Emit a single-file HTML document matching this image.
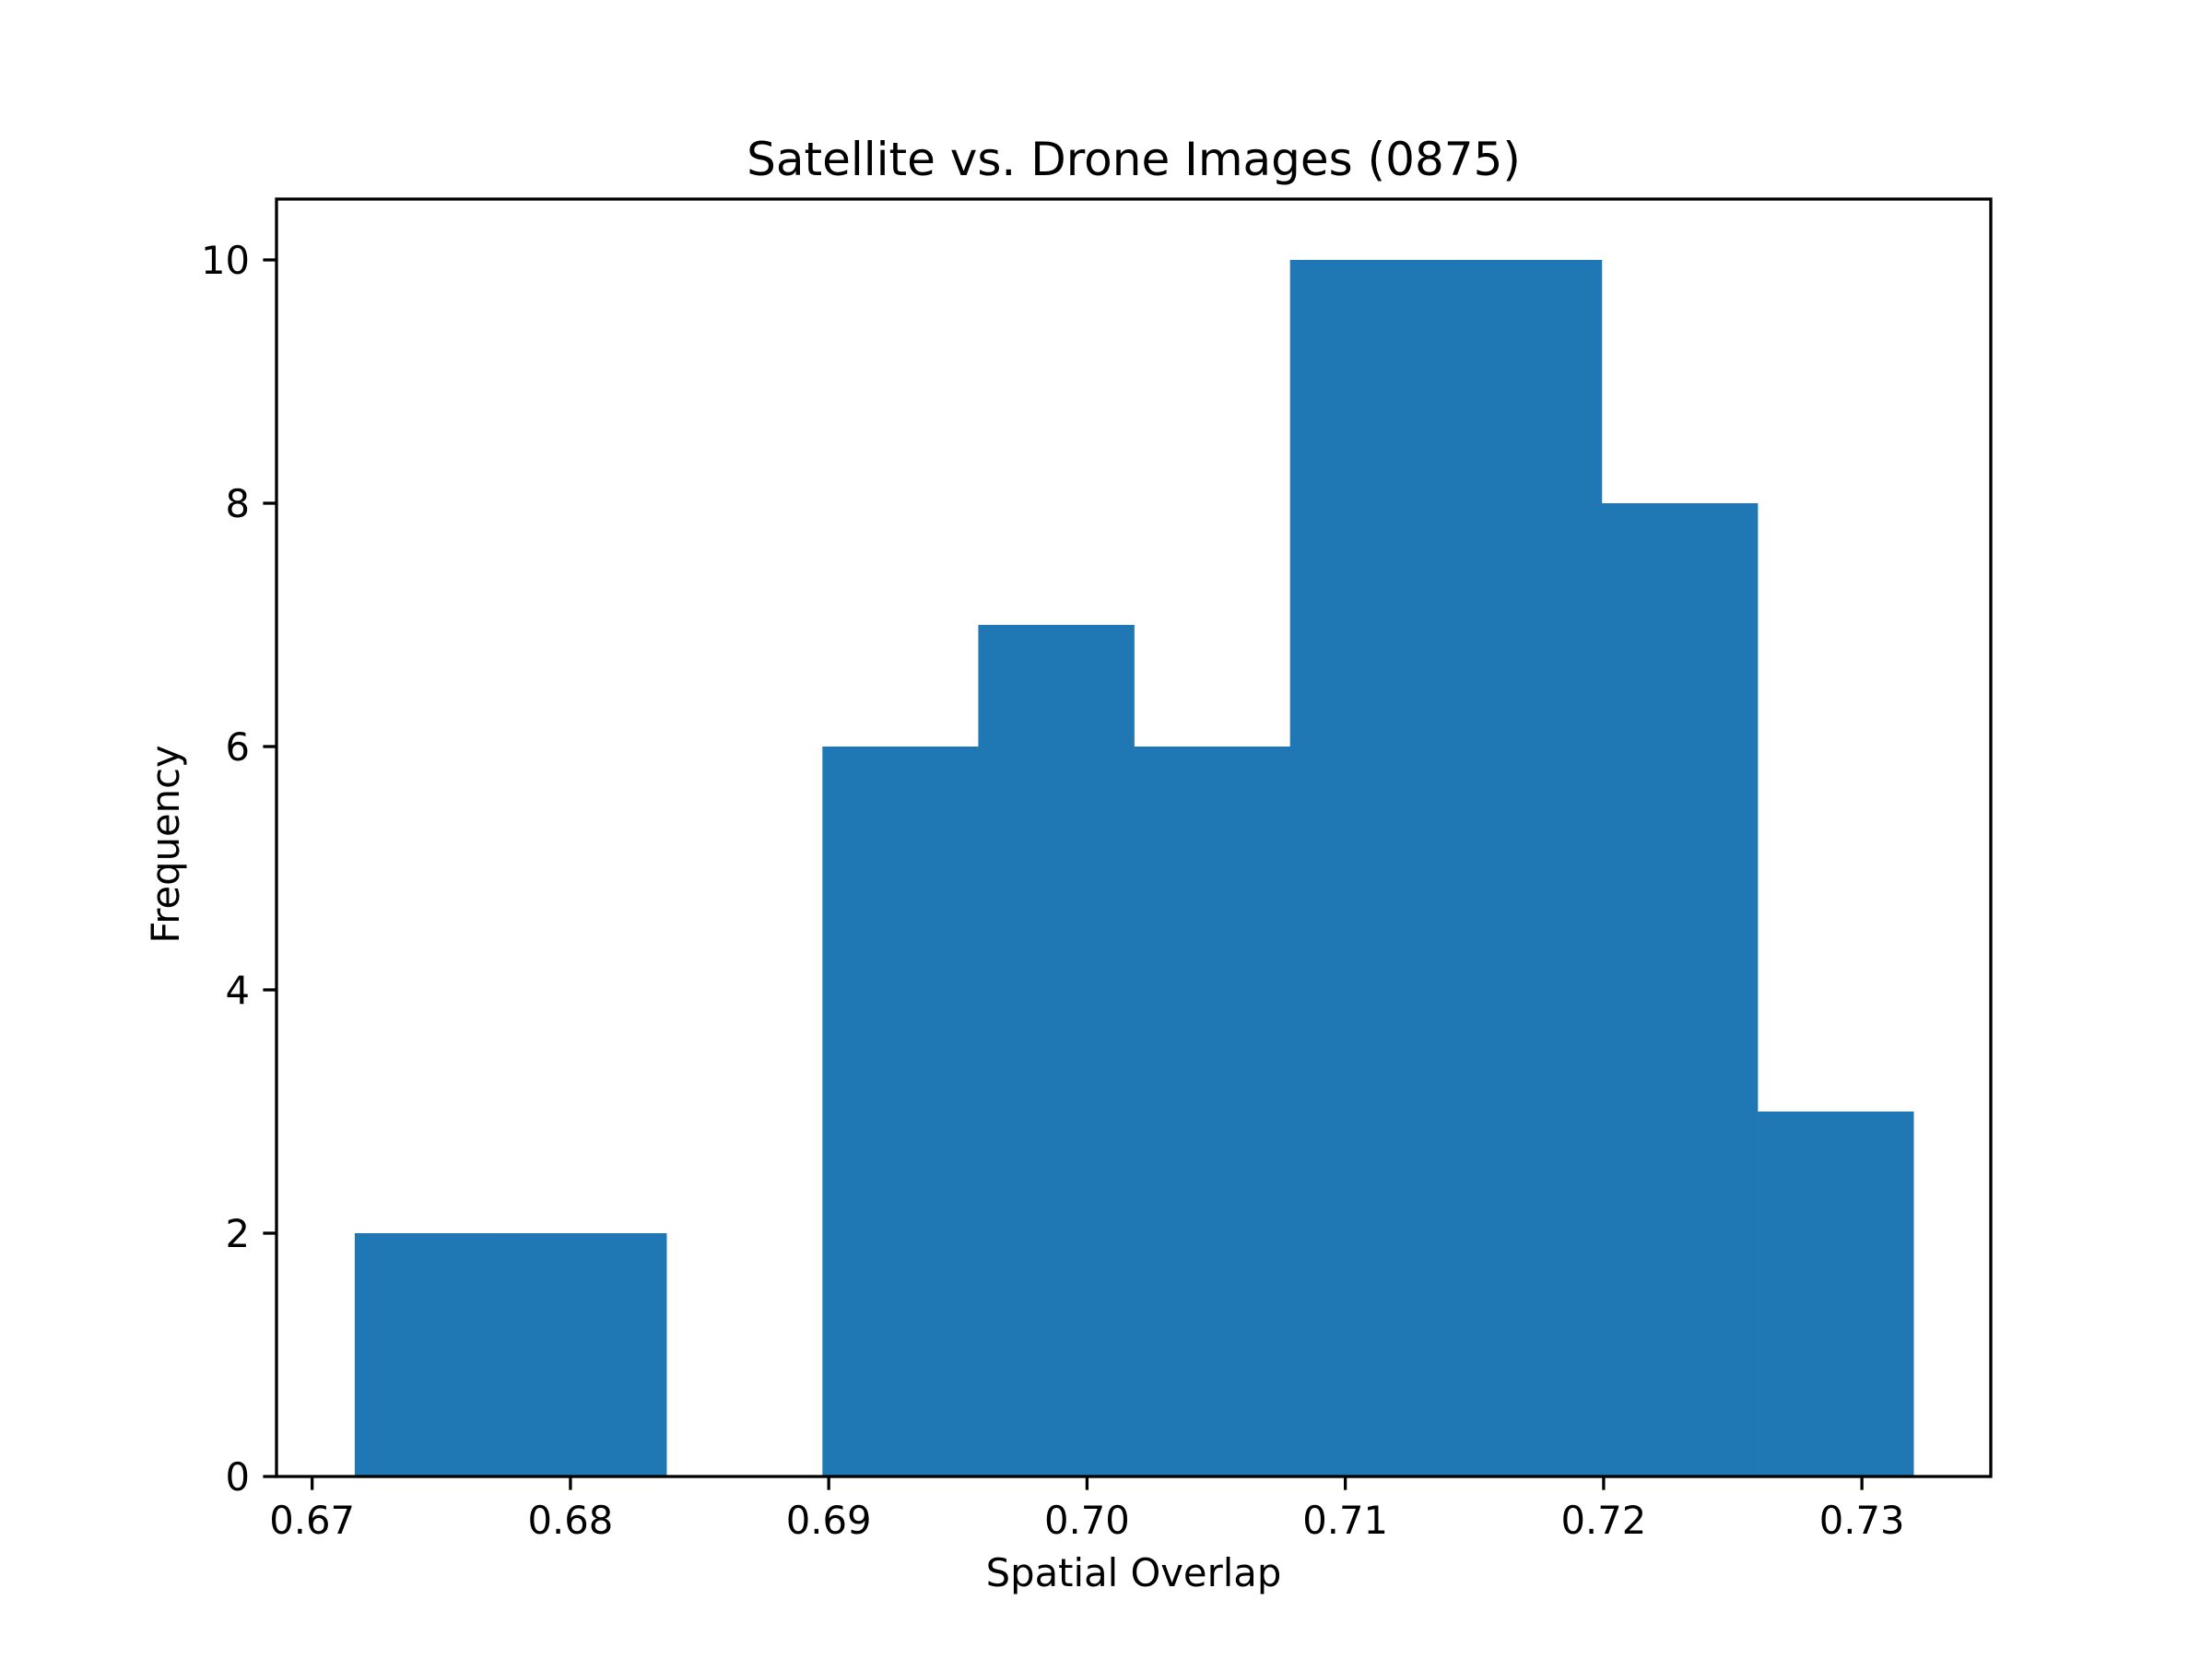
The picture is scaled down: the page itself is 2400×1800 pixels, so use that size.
<!DOCTYPE html>
<html><head><meta charset="utf-8"><style>
html,body{margin:0;padding:0;background:#fff}
svg{display:block;font-family:"DejaVu Sans","Liberation Sans",sans-serif}
</style></head><body>
<svg id="chart" width="2400" height="1800" viewBox="0 0 2400 1800">
<rect width="2400" height="1800" fill="#fff"/>
<g id="bars"></g>
<g id="axes"></g>
<text x="1230" y="190" font-size="50" text-anchor="middle">Satellite vs. Drone Images (0875)</text>
<text x="1230" y="1721" font-size="41.7" text-anchor="middle">Spatial Overlap</text>
<text x="0" y="0" font-size="41.7" text-anchor="middle" transform="translate(194,916) rotate(-90)">Frequency</text>
</svg>
<script>
const binStart = 0.67165;
const binWidth = 0.006035;
const counts = [2, 2, 0, 6, 7, 6, 10, 10, 8, 3];
const xTicks = [0.67, 0.68, 0.69, 0.70, 0.71, 0.72, 0.73];
const xTickLabels = ["0.67", "0.68", "0.69", "0.70", "0.71", "0.72", "0.73"];
const yTicks = [0, 2, 4, 6, 8, 10];
const yTickLabels = ["0", "2", "4", "6", "8", "10"];

const L = 300, R = 2160, T = 216, B = 1602;
const xMin = 0.66862, xMax = 0.73499, yMin = 0, yMax = 10.5;
const NS = "http://www.w3.org/2000/svg";
function sx(v){ return L + (v - xMin) / (xMax - xMin) * (R - L); }
function sy(v){ return B - (v - yMin) / (yMax - yMin) * (B - T); }
function mk(tag, attrs){ const e = document.createElementNS(NS, tag); for (const k in attrs) e.setAttribute(k, attrs[k]); return e; }

const bars = document.getElementById('bars');
counts.forEach((c, i) => {
  const x0 = sx(binStart + i * binWidth), x1 = sx(binStart + (i + 1) * binWidth);
  const r = mk('rect', {x: x0, y: sy(c), width: x1 - x0 + 0.3, height: sy(0) - sy(c), fill: '#1f77b4'});
  
  
  bars.appendChild(r);
});

const axes = document.getElementById('axes');
const frame = mk('rect', {x: L, y: T, width: R - L, height: B - T, fill: 'none', stroke: '#000', 'stroke-width': 3.3});


axes.appendChild(frame);

xTicks.forEach((v, i) => {
  const x = sx(v);
  const t = mk('line', {x1: x, x2: x, y1: B, y2: B + 14.6, stroke: '#000', 'stroke-width': 3.3});
  
  
  axes.appendChild(t);
  const lb = mk('text', {x: x, y: B + 62, 'font-size': 41.7, 'text-anchor': 'middle'});
  lb.textContent = xTickLabels[i];
  
  
  axes.appendChild(lb);
});
yTicks.forEach((v, i) => {
  const y = sy(v);
  const t = mk('line', {x1: L - 14.6, x2: L, y1: y, y2: y, stroke: '#000', 'stroke-width': 3.3});
  
  
  axes.appendChild(t);
  const lb = mk('text', {x: L - 29, y: y + 15, 'font-size': 41.7, 'text-anchor': 'end'});
  lb.textContent = yTickLabels[i];
  
  
  axes.appendChild(lb);
});
</script>
</body></html>
